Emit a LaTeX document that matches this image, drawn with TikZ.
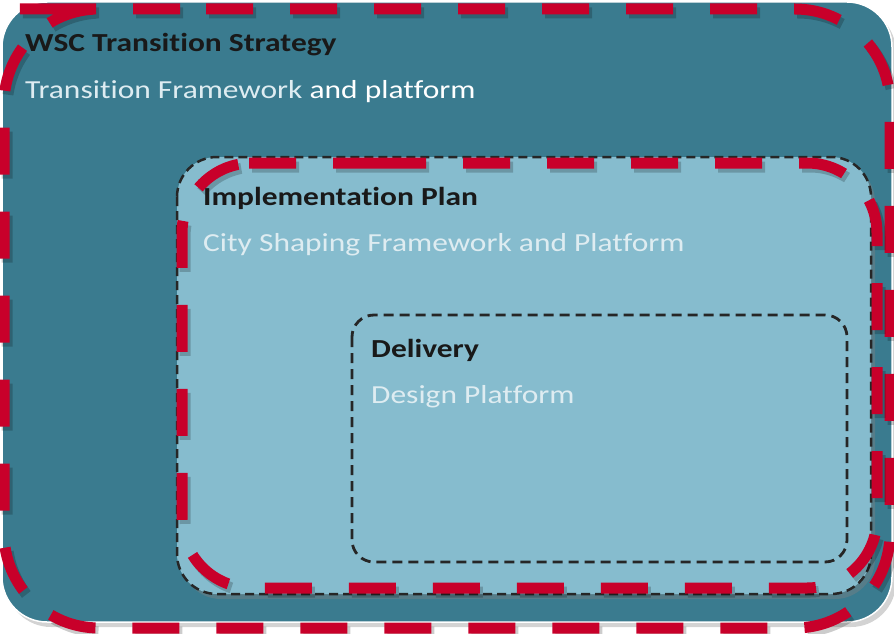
\documentclass[tikz,border=0pt]{standalone}
\usepackage{fontspec}
\setmainfont{Carlito}[FakeStretch=1.21,Ligatures=NoCommon]
\usetikzlibrary{shadows}
\definecolor{tealbg}{RGB}{58,123,143}
\definecolor{lightbg}{RGB}{134,188,206}
\definecolor{reddash}{RGB}{200,0,42}
\definecolor{softwhite}{RGB}{222,236,241}
\begin{document}
\begin{tikzpicture}[x=1pt,y=-1pt,
  heading/.style={anchor=base west,inner sep=0pt,text=black!90,
    font=\bfseries\fontsize{26}{31}\selectfont},
  subline/.style={anchor=base west,inner sep=0pt,text=softwhite,
    font=\fontsize{26}{31}\selectfont},
  reddashed/.style={draw=reddash,line width=11pt,dash pattern=on 47pt off 37pt},
  redshadow/.style={draw=black,opacity=0.2,line width=11pt,dash pattern=on 47pt off 37pt},
  blackdashed/.style={draw=black!85,line width=2.5pt,dash pattern=on 9pt off 5pt}]
  \useasboundingbox (0,0) rectangle (894,634);
  % outer box: strategy
  \path[fill=tealbg,draw=white,line width=1.5pt,rounded corners=45pt,
    drop shadow={shadow xshift=4pt,shadow yshift=-5pt,opacity=0.35}]
    (2,2) rectangle (892,622);
  \draw[redshadow,rounded corners=95pt,shift={(3,4)}]
    (111,9) -- (890,9) -- (890,628) -- (4,628) -- (4,9) -- cycle;
  \draw[reddashed,rounded corners=95pt]
    (111,9) -- (890,9) -- (890,628) -- (4,628) -- (4,9) -- cycle;
  % middle box: plan
  \path[fill=lightbg,rounded corners=40pt,
    drop shadow={shadow xshift=4pt,shadow yshift=-5pt,opacity=0.4}]
    (177,157) rectangle (871,594);
  \draw[blackdashed,rounded corners=40pt] (177,157) rectangle (871,594);
  \draw[redshadow,rounded corners=70pt,shift={(3,4)}]
    (309,163) -- (877,163) -- (877,588) -- (182,588) -- (182,163) -- cycle;
  \draw[reddashed,rounded corners=70pt]
    (309,163) -- (877,163) -- (877,588) -- (182,588) -- (182,163) -- cycle;
  % inner box: delivery
  \draw[fill=lightbg,blackdashed,line width=2.8pt,dash pattern=on 10pt off 6pt,
    rounded corners=22pt] (352,315) rectangle (847,562);
  % texts
  \node[heading] (strategy) at (25,52) {WSC Transition Strategy};
  \node[subline] (strategytext) at (25,99) {Transition Framework
    \textcolor{white}{and platform}};
  \node[heading] (plan) at (203,205) {Implementation Plan};
  \node[subline] (plantext) at (203,251) {City Shaping Framework and Platform};
  \node[heading] (delivery) at (371,357) {Delivery};
  \node[subline] (deliverytext) at (371,403) {Design Platform};
\end{tikzpicture}
\end{document}
